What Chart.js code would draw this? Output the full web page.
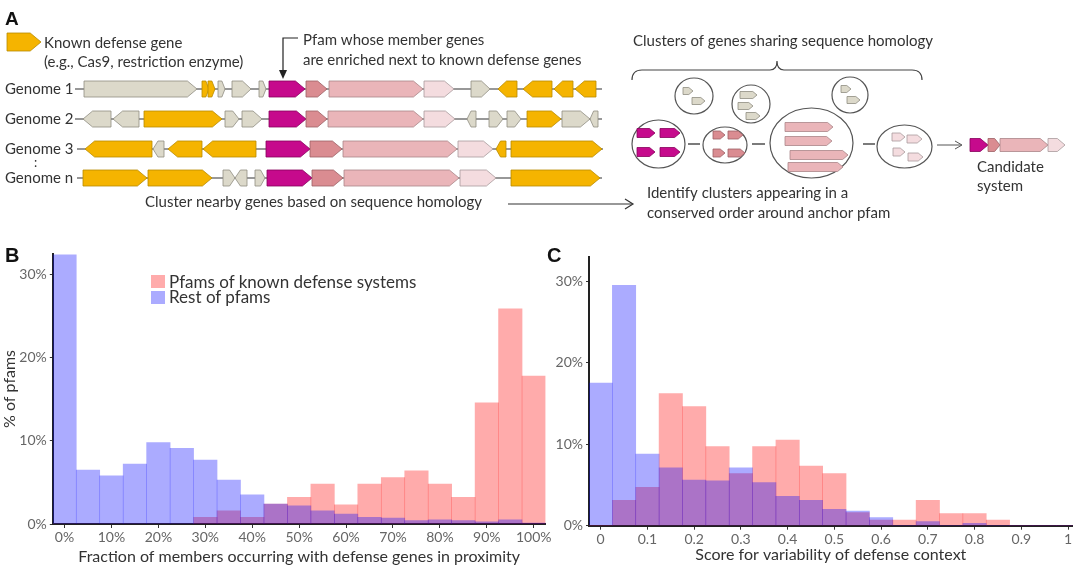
<!DOCTYPE html>
<html>
<head>
<meta charset="utf-8">
<script src="https://cdn.jsdelivr.net/npm/chart.js@4.4.1/dist/chart.umd.min.js"></script>
<style>
  body { margin: 0; background: #fff; font-family: Lato, sans-serif; color: #333; }
  #page { position: relative; width: 1080px; height: 570px; overflow: hidden; }
  .abs { position: absolute; }
  .panel { font-family: "Liberation Sans", Arial, sans-serif; font-weight: bold; font-size: 20px; line-height: 20px; color: #111; }
  #legendB { left: 151px; top: 274px; font-size: 17px; line-height: 16px; color: #333; }
  #legendB .row { display: flex; align-items: center; height: 15.5px; }
  #legendB .sw { width: 14px; height: 13px; margin-right: 4px; }
</style>
</head>
<body>
<div id="page">
  <canvas id="diagram" class="abs" width="1080" height="235" style="left:0;top:0"></canvas>
  <div class="abs" style="left:0;top:240px;width:560px;height:330px"><canvas id="chartB" width="560" height="330"></canvas></div>
  <div class="abs" style="left:540px;top:240px;width:540px;height:330px"><canvas id="chartC" width="540" height="330"></canvas></div>
  <div class="abs panel" style="left:5px;top:245px">B</div>
  <div class="abs panel" style="left:547px;top:245px">C</div>
  <div id="legendB" class="abs"></div>
</div>
<script>
// ---- data ----
const seriesNames = ['Pfams of known defense systems', 'Rest of pfams'];

// panel B: bins of 5% (bin centres)
const binsB = [0, 5, 10, 15, 20, 25, 30, 35, 40, 45, 50, 55, 60, 65, 70, 75, 80, 85, 90, 95, 100];
const defenseB = [0, 0, 0, 0, 0, 0, 0.8, 1.6, 0.8, 2.4, 3.2, 4.8, 2.3, 4.8, 5.6, 6.4, 4.8, 3.2, 14.6, 25.9, 17.8];
const restB = [32.4, 6.5, 5.8, 7.2, 9.8, 9.1, 7.7, 5.3, 3.5, 2.4, 2.2, 1.6, 1.2, 0.8, 0.7, 0.4, 0.5, 0.4, 0.25, 0.5, 0.1];
const xTicksB = [0, 10, 20, 30, 40, 50, 60, 70, 80, 90, 100];

// panel C: bins of 0.05
const binsC = [0, 0.05, 0.1, 0.15, 0.2, 0.25, 0.3, 0.35, 0.4, 0.45, 0.5, 0.55, 0.6, 0.65, 0.7, 0.75, 0.8, 0.85, 0.9, 0.95, 1];
const defenseC = [0, 3.1, 4.7, 16.2, 14.6, 9.7, 6.4, 9.7, 10.5, 7.3, 6.4, 1.6, 0.7, 0.7, 3.1, 1.5, 1.5, 0.7, 0, 0, 0];
const restC = [17.5, 29.5, 8.8, 7.1, 5.6, 5.5, 7.1, 5.3, 3.6, 3.1, 2.0, 1.8, 1.0, 0, 0.5, 0, 0.3, 0, 0, 0, 0];
const xTicksC = [0, 0.1, 0.2, 0.3, 0.4, 0.5, 0.6, 0.7, 0.8, 0.9, 1];

const yTicks = [0, 10, 20, 30];

const redFill = 'rgba(255,0,0,0.33)';
const blueFill = 'rgba(0,0,255,0.33)';

Chart.defaults.font.family = 'Lato, sans-serif';

// ---- legend for B ----
const leg = document.getElementById('legendB');
[redFill, blueFill].forEach((c, i) => {
  const row = document.createElement('div');
  row.className = 'row';
  row.innerHTML = '<span class="sw" style="background:' + c + '"></span><span>' + seriesNames[i] + '</span>';
  leg.appendChild(row);
});

// ---- histograms ----
// blue first: dataset 0 is painted last, on top of the red one
function histChart(id, bins, red, blue, o) {
  return new Chart(document.getElementById(id), {
    type: 'bar',
    data: {
      datasets: [
        { label: seriesNames[1], data: bins.map((b, i) => ({ x: b, y: blue[i] })), backgroundColor: blueFill },
        { label: seriesNames[0], data: bins.map((b, i) => ({ x: b, y: red[i] })), backgroundColor: redFill }
      ]
    },
    options: {
      responsive: false,
      animation: false,
      layout: { padding: { left: 0, right: o.padRight, top: o.padTop, bottom: 0 } },
      datasets: { bar: { barPercentage: 1, categoryPercentage: 1, grouped: false, borderWidth: 0 } },
      plugins: { legend: { display: false }, tooltip: { enabled: false } },
      scales: {
        x: {
          type: 'linear', min: o.xMin, max: o.xMax, bounds: 'data', offset: false,
          grid: { drawOnChartArea: false, tickLength: 4, color: '#333', offset: false },
          border: { color: '#222', width: 2 },
          afterBuildTicks: s => { s.ticks = o.xTicks.map(v => ({ value: v })); },
          ticks: { padding: 1, color: '#666', font: { size: 14 }, maxRotation: 0, autoSkip: false, callback: o.xFmt },
          title: { display: true, text: o.xTitle, color: '#333', font: { size: 16 }, padding: { top: 0, bottom: o.titlePad } },
          afterFit: s => { s.height = o.xHeight; }
        },
        y: {
          min: 0, max: o.yMax, bounds: 'data',
          grid: { drawOnChartArea: false, tickLength: 3, color: '#333' },
          border: { color: '#222', width: 2 },
          afterBuildTicks: s => { s.ticks = yTicks.map(v => ({ value: v })); },
          ticks: { padding: 3, color: '#666', font: { size: 14 }, callback: v => v + '%' },
          title: { display: !!o.yTitle, text: o.yTitle, color: '#333', font: { size: 16 }, padding: 0 },
          afterFit: s => { s.width = o.yWidth; }
        }
      }
    }
  });
}

histChart('chartB', binsB, defenseB, restB, {
  xMin: -2.5, xMax: 102.5, xTicks: xTicksB, xFmt: v => v + '%', yMax: 32.5,
  xTitle: 'Fraction of members occurring with defense genes in proximity', yTitle: '% of pfams',
  padRight: 14.5, padTop: 14, xHeight: 46, yWidth: 52.8, titlePad: 3.7
});

histChart('chartC', binsC, defenseC, restC, {
  xMin: -0.025, xMax: 1.01, xTicks: xTicksC, xFmt: v => String(+v.toFixed(2)), yMax: 33,
  xTitle: 'Score for variability of defense context', yTitle: '',
  padRight: 7.3, padTop: 16.7, xHeight: 44.3, yWidth: 49, titlePad: 5.4
});

// ---- panel A: schematic ----
const ctx = document.getElementById('diagram').getContext('2d');
const geneCol = {
  Y: ['#F5B400', '#B88A00'], G: ['#DCD9CA', '#8F8D82'], M: ['#C60A8C', '#86005C'],
  S: ['#DA8C91', '#9C5F64'], P: ['#EAB5B9', '#A98588'], L: ['#F4DCDF', '#A89A9C']
};
function gene(x1, x2, y, dir, c, h) {
  const w = x2 - x1, hd = Math.min(h * 0.6, w * 0.45);
  ctx.beginPath();
  if (dir > 0) {
    ctx.moveTo(x1, y - h / 2); ctx.lineTo(x2 - hd, y - h / 2); ctx.lineTo(x2, y);
    ctx.lineTo(x2 - hd, y + h / 2); ctx.lineTo(x1, y + h / 2);
  } else {
    ctx.moveTo(x2, y - h / 2); ctx.lineTo(x1 + hd, y - h / 2); ctx.lineTo(x1, y);
    ctx.lineTo(x1 + hd, y + h / 2); ctx.lineTo(x2, y + h / 2);
  }
  ctx.closePath();
  ctx.fillStyle = geneCol[c][0]; ctx.fill();
  ctx.strokeStyle = geneCol[c][1]; ctx.lineWidth = 0.8; ctx.stroke();
}
function text(s, x, y, size, align) {
  ctx.font = (size || 15) + 'px Lato';
  ctx.fillStyle = '#333';
  ctx.textAlign = align || 'left';
  ctx.textBaseline = 'middle';
  ctx.fillText(s, x, y);
}
function line(pts, w, col) {
  ctx.beginPath();
  ctx.moveTo(pts[0][0], pts[0][1]);
  pts.slice(1).forEach(p => ctx.lineTo(p[0], p[1]));
  ctx.lineWidth = w || 1.2; ctx.strokeStyle = col || '#333'; ctx.stroke();
}
function ellipse(cx, cy, rx, ry) {
  ctx.beginPath(); ctx.ellipse(cx, cy, rx, ry, 0, 0, Math.PI * 2);
  ctx.lineWidth = 1.2; ctx.strokeStyle = '#555'; ctx.stroke();
}

ctx.font = 'bold 19px "Liberation Sans"'; ctx.fillStyle = '#111'; ctx.textBaseline = 'alphabetic';
ctx.fillText('A', 5, 25);

gene(7, 41, 42, 1, 'Y', 18);
text('Known defense gene', 44, 43);
text('(e.g., Cas9, restriction enzyme)', 44, 62);

text('Pfam whose member genes', 303, 40);
text('are enriched next to known defense genes', 303, 60);
line([[298, 38], [283, 38], [283, 72]], 1.2, '#222');
ctx.beginPath(); ctx.moveTo(279, 70); ctx.lineTo(287, 70); ctx.lineTo(283, 79); ctx.closePath();
ctx.fillStyle = '#222'; ctx.fill();

const genomes = [
  { name: 'Genome 1', y: 89, from: 75, to: 602, genes: [[84,197,1,'G'],[202,209,1,'Y'],[208,215,1,'Y'],[218,225,1,'G'],[232,251,1,'G'],[259,266,1,'G'],[269,305,1,'M'],[306,327,1,'S'],[329,423,1,'P'],[424,454,1,'L'],[471,490,1,'G'],[498,517,-1,'Y'],[523,552,-1,'Y'],[554,573,-1,'Y'],[575,596,-1,'Y']] },
  { name: 'Genome 2', y: 119, from: 75, to: 602, genes: [[83,111,-1,'G'],[113,139,-1,'G'],[144,222,1,'Y'],[225,239,1,'G'],[242,262,1,'G'],[269,306,1,'M'],[306,327,1,'S'],[328,423,1,'P'],[424,455,1,'L'],[467,476,-1,'G'],[489,503,1,'G'],[507,521,1,'G'],[527,561,1,'Y'],[562,590,1,'G'],[590,598,-1,'G']] },
  { name: 'Genome 3', y: 149, from: 77, to: 603, genes: [[85,152,-1,'Y'],[153,164,-1,'G'],[168,202,-1,'Y'],[203,256,-1,'Y'],[266,310,1,'M'],[310,342,1,'S'],[343,457,1,'P'],[458,493,1,'L'],[496,506,-1,'Y'],[511,602,1,'Y']] },
  { name: 'Genome n', y: 178, from: 77, to: 602, genes: [[83,147,1,'Y'],[148,212,1,'Y'],[223,235,1,'G'],[235,247,-1,'G'],[255,265,1,'G'],[267,312,1,'M'],[312,343,1,'S'],[344,459,1,'P'],[460,496,1,'L'],[511,600,1,'Y']] }
];
genomes.forEach(g => {
  text(g.name, 5, g.y);
  line([[g.from, g.y], [g.to, g.y]], 1.2, '#333');
  g.genes.forEach(q => gene(q[0], q[1], g.y, q[2], q[3], 16));
});
text(':', 34, 163, 13);

text('Cluster nearby genes based on sequence homology', 145, 202);
line([[508, 204], [632, 204]], 1.2, '#333');
line([[625, 199], [633, 204], [625, 209]], 1.2, '#333');

// right side: clusters
text('Clusters of genes sharing sequence homology', 633, 41);
ctx.beginPath();
ctx.moveTo(632, 80); ctx.quadraticCurveTo(632, 70, 642, 70); ctx.lineTo(770, 70);
ctx.quadraticCurveTo(777, 70, 777, 61); ctx.quadraticCurveTo(777, 70, 784, 70);
ctx.lineTo(912, 70); ctx.quadraticCurveTo(922, 70, 922, 80);
ctx.lineWidth = 1.2; ctx.strokeStyle = '#444'; ctx.stroke();

ellipse(694, 96, 19, 18);
gene(683, 693, 91, 1, 'G', 7); gene(692, 705, 101, 1, 'G', 7);
ellipse(751, 104, 19, 19);
gene(740, 757, 95, 1, 'G', 7); gene(738, 753, 106, 1, 'G', 7); gene(746, 760, 116, 1, 'G', 7);
ellipse(850, 95, 18, 18);
gene(841, 851, 89, 1, 'G', 7); gene(847, 860, 100, 1, 'G', 7);

ellipse(658.5, 144, 26.5, 24);
gene(637, 655, 133, 1, 'M', 9); gene(660, 680, 133, 1, 'M', 9);
gene(637, 655, 152, 1, 'M', 9); gene(660, 680, 152, 1, 'M', 9);
ellipse(725, 145, 22, 18);
gene(713, 725, 135, 1, 'S', 8); gene(728, 743, 135, 1, 'S', 8);
gene(713, 725, 153, 1, 'S', 8); gene(728, 745, 153, 1, 'S', 8);
ellipse(811.5, 143, 41.5, 35);
gene(785, 833, 127, 1, 'P', 9); gene(785, 832, 141, 1, 'P', 9);
gene(790, 848, 155, 1, 'P', 9); gene(788, 843, 167, 1, 'P', 9);
ellipse(904.5, 146.5, 27.5, 21.5);
gene(892, 905, 137, 1, 'L', 8); gene(907, 922, 139, 1, 'L', 8);
gene(893, 905, 152, 1, 'L', 8); gene(908, 923, 157, 1, 'L', 8);

line([[688, 144], [700, 144]], 1.3, '#333');
line([[752, 144], [765, 144]], 1.3, '#333');
line([[863, 144], [875, 144]], 1.3, '#333');

line([[937, 145], [961, 145]], 1, '#555');
line([[955, 141], [962, 145], [955, 149]], 1, '#555');
gene(970, 988, 145, 1, 'M', 13); gene(988, 1000, 145, 1, 'S', 13);
gene(1000, 1048, 145, 1, 'P', 13); gene(1048, 1065, 145, 1, 'L', 13);
text('Candidate', 977, 167);
text('system', 977, 186);

text('Identify clusters appearing in a', 647, 193);
text('conserved order around anchor pfam', 647, 213);
</script>
</body>
</html>
